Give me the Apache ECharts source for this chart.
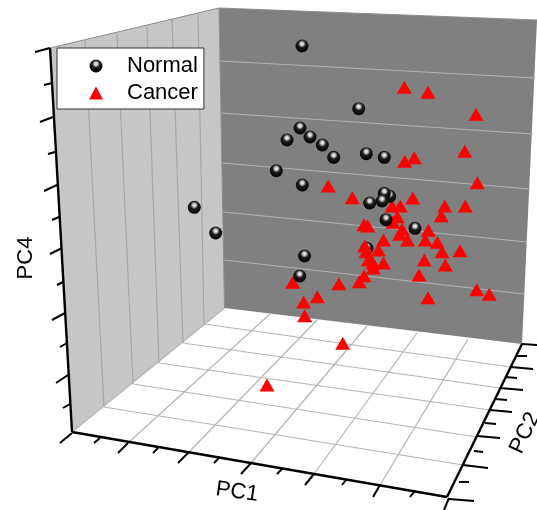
<!DOCTYPE html>
<html>
<head>
<meta charset="utf-8">
<style>html,body{margin:0;padding:0;background:#fff}#c{width:537px;height:510px}</style>
<script src="https://cdn.jsdelivr.net/npm/echarts@6/dist/echarts.min.js"></script>
</head>
<body>
<div id="c"></div>
<script>
// Values: where each sample falls in the projected view.
const normalX = [302,358.7,300,287,310,322.3,333.7,366.3,384.3,276.3,302.3,389.7,384.3,382,369.7,386,415,304.5,299.7,194.3,215.7];
const normalY = [46,108.7,128,140,137,145,157.3,153.7,157.3,170.7,185,196.3,193.3,201,203,219.7,228.3,256,276,207.3,233];
const normalBehindX = [367];
const normalBehindY = [248.3];
const cancerX = [404.3,428,476,464.7,414.3,404.7,477.3,328.3,352.3,412.7,392,400.3,444.7,465.3,441.3,397.3,364,367.7,393,402.3,399.7,428.3,383.5,407.5,425.3,437.3,364.8,366,378.3,442,460,424.3,445.3,368.3,383.5,373,373.3,364,359.3,419,339,292.7,317.3,303.7,304.7,428,476.7,489.3,342.7,267];
const cancerY = [87.3,92.3,114.3,151.3,157.7,161.3,182.7,186,197.7,198,206,206,206,206,215.7,216.7,224.7,226,222.3,229.3,234.3,230.3,240,240,240,242.3,246,251.7,250,251.7,250.7,260,265,260,263,263,268,275.7,281.7,275,283.7,282.3,296.7,302,315.7,297.7,289.7,294.3,343.3,385];

// Panels of the 3D box, as [x, y] outline lists.
const leftWall = [[50,48],[219,8],[224.5,308],[72,432]];
const backWall = [[219,8],[537,20],[522,344],[224.5,308]];

// Line segments [x1, y1, x2, y2].
const leftWallGrid = [[85,40,104,407],[117,33,133,384],[147,27,159,363],[172,20,183,343],[198,14,204,324]];
const backWallGrid = [[220,61,535,78],[220,113,533,134],[222,163,530,189],[223,212,527,242],[224,260,524,294]];
const floorGrid = [
  [128,443,271,313],[189,452,317,320],[251,463,367,326],[314,474,417,333],[380,485,468,339],
  [104,407,463,465],[133,384,477,437],[159,363,490,410],[183,343,500,388],[204,324,511,367],
  [72,432,224.5,308]
];
const wallEdges = [[50,48,219,8],[219,8,537,20],[219,8,224.5,308]];
const axisLines = [[50,48,72,432],[72,432,447,497],[447,497,522,344]];
const majorTicks = [
  [35,52,50,48],[40,122,53,117],[44,191,57,185],[50,254,62,248],[52,320,65,313],[56,383,68,375],[60,443,72,433],
  [118,453,128,443],[178,463,189,452],[241,474,251,463],[305,485,314,474],[373,497,380,485],[444,510,449,498],
  [449,499,474,501],[463,465,488,468],[477,436,500,438],[490,410,512,412],[500,388,523,390],[511,367,533,369],[522,344,537,345]
];
const minorTicks = [
  [44,85,52,83],[48,154,55,152],[52,220,59,217],[57,285,63,282],[60,347,67,343],[63,408,70,404],
  [94,443,100,438],[153,453,158,448],[214,463,219,458],[277,474,282,469],[342,485,346,480],[410,497,414,492],
  [459,482,469,482],[474,451,483,452],[485,423,496,424],[495,399,507,400],[505,377,517,378],[516,356,527,356]
];

const sphere = {
  type: 'radial', x: 0.5, y: 0.34, r: 0.66,
  colorStops: [
    {offset: 0, color: '#ffffff'},
    {offset: 0.2, color: '#c4c4c4'},
    {offset: 0.45, color: '#1c1c1c'},
    {offset: 1, color: '#000000'}
  ]
};

function zip(xs, ys) { return xs.map((x, i) => [x, ys[i]]); }

function polygonSeries(points, fill, z) {
  return {
    type: 'custom', silent: true, z: z, clip: false,
    coordinateSystem: 'cartesian2d',
    data: [0],
    renderItem: (p, api) => ({
      type: 'polygon',
      shape: {points: points.map(q => api.coord(q))},
      style: {fill: fill}
    })
  };
}
function segmentSeries(segs, color, width, z) {
  return {
    type: 'custom', silent: true, z: z, clip: false,
    coordinateSystem: 'cartesian2d',
    encode: {x: [0, 2], y: [1, 3]},
    data: segs,
    renderItem: (p, api) => {
      const a = api.coord([api.value(0), api.value(1)]);
      const b = api.coord([api.value(2), api.value(3)]);
      return {
        type: 'line',
        shape: {x1: a[0], y1: a[1], x2: b[0], y2: b[1]},
        style: {stroke: color, lineWidth: width, fill: null}
      };
    }
  };
}

const chart = echarts.init(document.getElementById('c'), null, {renderer: 'canvas'});
const font = '"Liberation Sans", Arial, sans-serif';
chart.setOption({
  animation: false,
  backgroundColor: '#ffffff',
  grid: {left: 0, right: 0, top: 0, bottom: 0},
  xAxis: {type: 'value', min: 0, max: 537, show: false},
  yAxis: {type: 'value', min: 0, max: 510, inverse: true, show: false},
  legend: {
    left: 57, top: 48, orient: 'vertical', align: 'left',
    padding: [7, 6, 5, 32],
    itemGap: 5, itemWidth: 14, itemHeight: 13,
    backgroundColor: '#ffffff', borderColor: '#333333', borderWidth: 1, borderRadius: 0,
    selectedMode: false,
    textStyle: {fontFamily: font, fontSize: 22, color: '#000', padding: [0, 0, 0, 19]},
    data: [{name: 'Normal', icon: 'circle'}, {name: 'Cancer', icon: 'triangle'}]
  },
  graphic: [
    {type: 'text', x: 26, y: 258, rotation: Math.PI / 2, silent: true,
     style: {text: 'PC4', font: '22px ' + font, fill: '#000', align: 'center', verticalAlign: 'middle'}},
    {type: 'text', x: 237, y: 492, rotation: -0.14, silent: true,
     style: {text: 'PC1', font: '22px ' + font, fill: '#000', align: 'center', verticalAlign: 'middle'}},
    {type: 'text', x: 525, y: 433, rotation: 1.13, silent: true,
     style: {text: 'PC2', font: '22px ' + font, fill: '#000', align: 'center', verticalAlign: 'middle'}}
  ],
  series: [
    polygonSeries(leftWall, '#c6c6c6', 1),
    polygonSeries(backWall, '#808080', 1),
    segmentSeries(floorGrid, '#b4b4b4', 1.2, 2),
    segmentSeries(leftWallGrid, '#a6a6a6', 1.2, 2),
    segmentSeries(backWallGrid, '#b2b2b2', 1.2, 2),
    segmentSeries(wallEdges, '#8c8c8c', 1, 3),
    segmentSeries(minorTicks, '#000000', 2, 4),
    segmentSeries(majorTicks, '#000000', 2, 4),
    segmentSeries(axisLines, '#000000', 2.4, 5),
    {
      name: 'Normal (behind)', type: 'scatter', z: 6, silent: true,
      symbol: 'circle', symbolSize: 13, itemStyle: {color: sphere, opacity: 1},
      data: zip(normalBehindX, normalBehindY)
    },
    {
      name: 'Cancer', type: 'scatter', z: 7, silent: true,
      symbol: 'triangle', symbolSize: [15, 13], itemStyle: {color: '#ff0000', opacity: 1},
      data: zip(cancerX, cancerY)
    },
    {
      name: 'Normal', type: 'scatter', z: 8, silent: true,
      symbol: 'circle', symbolSize: 13, itemStyle: {color: sphere, opacity: 1},
      data: zip(normalX, normalY)
    }
  ]
});
</script>
</body>
</html>
